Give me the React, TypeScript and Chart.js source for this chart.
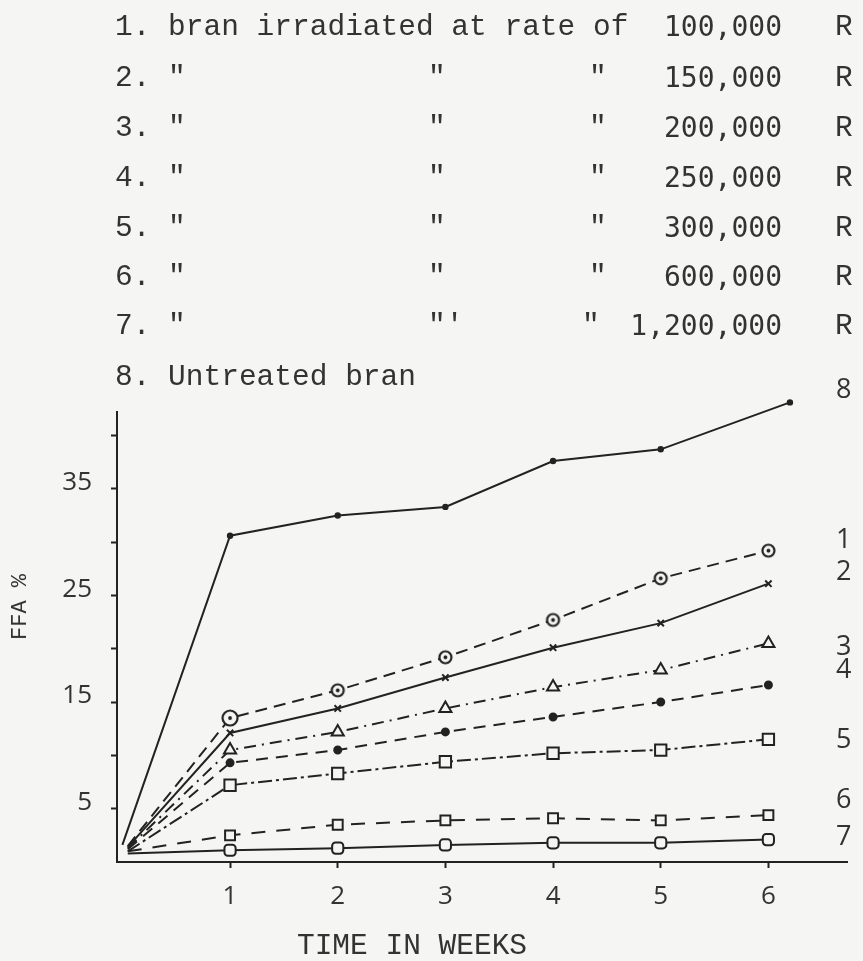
import React, { useEffect, useRef } from "react";
import { Chart, registerables } from "chart.js";

Chart.register(...registerables);

// ---------- data ----------
const weeks = [0.05, 1, 2, 3, 4, 5, 6];
const weeksUntreated = [0, 1, 2, 3, 4, 5, 6.2];

const ffa100k = [1.5, 13.5, 16.1, 19.2, 22.7, 26.6, 29.2];
const ffa150k = [1.4, 12.1, 14.4, 17.3, 20.1, 22.4, 26.1];
const ffa200k = [1.3, 10.5, 12.2, 14.4, 16.4, 18.0, 20.5];
const ffa250k = [1.2, 9.3, 10.5, 12.2, 13.6, 15.0, 16.6];
const ffa300k = [1.0, 7.2, 8.3, 9.4, 10.2, 10.5, 11.5];
const ffa600k = [1.0, 2.5, 3.5, 3.9, 4.1, 3.9, 4.4];
const ffa1200k = [0.8, 1.1, 1.3, 1.6, 1.8, 1.8, 2.1];
const ffaUntreated = [1.6, 30.6, 32.5, 33.3, 37.6, 38.7, 43.1];

const xTickLabels = ["1", "2", "3", "4", "5", "6"];
const yTickLabels = ["5", "15", "25", "35"];

const seriesNames = ["1", "2", "3", "4", "5", "6", "7", "8"];
// where each series number is written at the right edge (FFA % units)
const seriesLabelAt = [30.2, 27.2, 20.1, 18.0, 11.4, 5.8, 2.3, 44.2];
const seriesLabelWeek = 6.7;

const doseNumbers = ["2", "3", "4", "5", "6", "7"];
const doses = ["100,000", "150,000", "200,000", "250,000", "300,000", "600,000", "1,200,000"];

const INK = "#222";
const TEXT = "#333";
const BG = "#f5f5f3";

function circleDot(r: number) {
  const c = document.createElement("canvas");
  const s = Math.ceil(r * 2 + 5);
  c.width = s;
  c.height = s;
  const g = c.getContext("2d")!;
  g.fillStyle = BG;
  g.strokeStyle = INK;
  g.lineWidth = 2.2;
  g.beginPath();
  g.arc(s / 2, s / 2, r, 0, Math.PI * 2);
  g.fill();
  g.stroke();
  g.beginPath();
  g.fillStyle = INK;
  g.arc(s / 2, s / 2, 1.9, 0, Math.PI * 2);
  g.fill();
  return c;
}

const seriesLabelPlugin = {
  id: "seriesLabels",
  afterDraw(chart: any) {
    const { ctx, scales } = chart;
    ctx.save();
    ctx.font = '27px "Open Sans"';
    ctx.fillStyle = TEXT;
    ctx.textAlign = "center";
    ctx.textBaseline = "middle";
    seriesNames.forEach((n, i) => {
      ctx.fillText(n, scales.x.getPixelForValue(seriesLabelWeek), scales.y.getPixelForValue(seriesLabelAt[i]));
    });
    ctx.restore();
  },
};

function pts(xs: number[], ys: number[]) {
  return ys.map((y, i) => ({ x: xs[i], y }));
}

export default function App() {
  const ref = useRef<HTMLCanvasElement>(null);

  useEffect(() => {
    const small = circleDot(6);
    const big = circleDot(7.5);
    const zeroFirst = (r: number) => weeks.map((_, i) => (i === 0 ? 0 : r));
    const base = { borderColor: INK, borderWidth: 2, pointBorderColor: INK, pointBorderWidth: 2, clip: false as any, tension: 0 };

    const chart = new Chart(ref.current!, {
      type: "line",
      data: {
        datasets: [
          { ...base, label: "1", data: pts(weeks, ffa100k), borderDash: [12, 7], pointStyle: [small, big, small, small, small, small, small] as any, pointRadius: zeroFirst(6) },
          { ...base, label: "2", data: pts(weeks, ffa150k), pointStyle: "crossRot", pointRadius: zeroFirst(4.5) },
          { ...base, label: "3", data: pts(weeks, ffa200k), borderDash: [12, 6, 2, 6], pointStyle: "triangle", pointRadius: zeroFirst(7), pointBackgroundColor: BG },
          { ...base, label: "4", data: pts(weeks, ffa250k), borderDash: [12, 8], pointStyle: "circle", pointRadius: zeroFirst(3.5), pointBackgroundColor: INK },
          { ...base, label: "5", data: pts(weeks, ffa300k), borderDash: [14, 4, 3, 4], pointStyle: "rect", pointRadius: zeroFirst(8), pointBackgroundColor: BG },
          { ...base, label: "6", data: pts(weeks, ffa600k), borderDash: [14, 11], pointStyle: "rect", pointRadius: zeroFirst(7), pointBackgroundColor: BG },
          { ...base, label: "7", data: pts(weeks, ffa1200k), pointStyle: "rectRounded", pointRadius: zeroFirst(6.5), pointBackgroundColor: BG },
          { ...base, label: "8", data: pts(weeksUntreated, ffaUntreated), pointStyle: "circle", pointRadius: zeroFirst(3.2), pointBackgroundColor: INK, pointBorderColor: "rgba(0,0,0,0)", pointBorderWidth: 9 },
        ] as any,
      },
      options: {
        animation: false,
        responsive: false,
        events: [],
        layout: { padding: { top: 412, right: 16, bottom: 0, left: 0 } },
        plugins: { legend: { display: false }, tooltip: { enabled: false } },
        scales: {
          x: {
            type: "linear",
            min: -0.05,
            max: 6.73,
            afterFit: (s: any) => { s.height = 99; },
            border: { color: INK, width: 2 },
            grid: {
              drawOnChartArea: false,
              tickLength: 6,
              tickWidth: 2,
              tickColor: (c: any) => (xTickLabels.includes(String(c.tick?.value)) ? INK : "rgba(0,0,0,0)"),
            },
            ticks: {
              stepSize: 1,
              includeBounds: false,
              autoSkip: false,
              maxRotation: 0,
              padding: 13,
              color: TEXT,
              font: { family: "Open Sans", size: 26 },
              callback: (v: any) => (xTickLabels.includes(String(v)) ? String(v) : ""),
            },
          },
          y: {
            min: 0,
            max: 42.2,
            afterFit: (s: any) => { s.width = 117; },
            border: { color: INK, width: 2 },
            grid: {
              drawOnChartArea: false,
              tickLength: 6,
              tickWidth: 2,
              tickColor: (c: any) => {
                const v = c.tick?.value;
                return v > 0 && v % 5 === 0 ? INK : "rgba(0,0,0,0)";
              },
            },
            ticks: {
              stepSize: 5,
              includeBounds: false,
              autoSkip: false,
              padding: 19,
              labelOffset: -6,
              color: TEXT,
              font: { family: "Open Sans", size: 26 },
              callback: (v: any) => (yTickLabels.includes(String(v)) ? String(v) : ""),
            },
          },
        },
      },
      plugins: [seriesLabelPlugin],
    });
    return () => chart.destroy();
  }, []);

  const mono: React.CSSProperties = { position: "absolute", fontFamily: '"Liberation Mono", monospace', fontSize: 29.5, lineHeight: "34px", color: TEXT, whiteSpace: "pre" };
  const num: React.CSSProperties = { position: "absolute", fontFamily: '"DejaVu Sans Mono", monospace', fontSize: 28, lineHeight: "34px", color: TEXT, whiteSpace: "pre", right: 81 };
  const lineY = [27, 78, 128, 178, 228, 277, 326, 377];

  return (
    <div style={{ position: "absolute", left: 0, top: 0, width: 863, height: 961, background: BG, overflow: "hidden" }}>
      <canvas ref={ref} width={863} height={961} style={{ position: "absolute", left: 0, top: 0, width: 863, height: 961 }} />
      <div style={{ ...mono, left: 115, top: lineY[0] - 17 }}>1. bran irradiated at rate of</div>
      {doseNumbers.map((n, i) => (
        <React.Fragment key={n}>
          <div style={{ ...mono, left: 115, top: lineY[i + 1] - 17 }}>{`${n}. "`}</div>
          <div style={{ ...mono, left: 428, top: lineY[i + 1] - 17 }}>{n === "7" ? `"'` : `"`}</div>
          <div style={{ ...mono, left: n === "7" ? 582 : 589, top: lineY[i + 1] - 17 }}>{`"`}</div>
        </React.Fragment>
      ))}
      {doses.map((d, i) => (
        <React.Fragment key={d}>
          <div style={{ ...num, top: lineY[i] - 17 }}>{d}</div>
          <div style={{ ...mono, left: 835, top: lineY[i] - 17 }}>R</div>
        </React.Fragment>
      ))}
      <div style={{ ...mono, left: 115, top: lineY[7] - 17 }}>8. Untreated bran</div>
      <div style={{ ...mono, fontSize: 22, left: 21, top: 607, transform: "translate(-50%, -50%) rotate(-90deg)" }}>FFA %</div>
      <div style={{ ...mono, left: 412, top: 946, transform: "translate(-50%, -50%)" }}>TIME IN WEEKS</div>
    </div>
  );
}
